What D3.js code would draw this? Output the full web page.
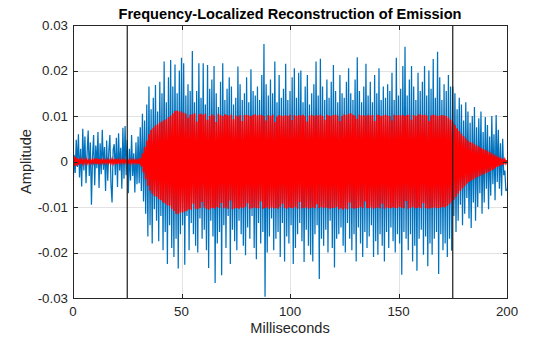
<!DOCTYPE html>
<html>
<head>
<meta charset="utf-8">
<script src="https://cdn.jsdelivr.net/npm/d3@7"></script>
<style>
  html, body { margin: 0; padding: 0; background: #fff; }
  svg { display: block; font-family: "Liberation Sans", Arial, Helvetica, sans-serif; }
</style>
</head>
<body>
<svg id="chart" width="560" height="337"></svg>
<script>
// Sample spacing of both traces, in milliseconds
const sampleStepMs = 0.5;
// Amplitudes below are stored in thousandths
const ampUnit = 1e-3;

// Recorded emission (blue), 0–200 ms
const emission = [
  -6.8, 1.5, -2.5, 4.8, -1.2, 6.0, -3.5, 2.8, -5.5, 7.2,
  -2.0, 5.5, -4.8, 1.8, 6.8, -3.2, 4.2, -9.5, 0.8, 5.8,
  -5.2, 3.5, -1.5, 6.5, -5.8, 4.0, -2.8, 7.0, -1.8, 3.2,
  -6.5, 4.6, -4.2, 2.2, 5.8, -5.0, -9.0, 2.6, 3.8, -3.0,
  5.2, -5.6, 6.2, -2.0, 3.0, -6.0, 7.4, -3.8, 7.8, -3.0,
  4.8, -7.0, 2.8, -4.2, 5.8, -3.2, 1.8, -6.8, 4.2, -5.0,
  5.5, -4.8, 7.5, -6.5, 10.5, -8.8, 9.0, -11.5, 12.5, -16.5,
  16.5, -14.0, 11.5, -18.0, 14.0, -10.5, 16.8, -13.0, 11.0, -17.5,
  17.5, -12.0, 15.0, -19.5, 22.0, -15.5, 13.0, -22.5, 18.5, -14.0,
  22.3, -19.0, 16.5, -21.0, 21.3, -17.0, 15.0, -23.5, 20.0, -16.0,
  22.8, -14.0, 21.6, -22.7, 14.5, -12.0, 17.0, -19.5, 15.5, -13.5,
  24.3, -16.0, 13.0, -18.5, 15.5, -20.0, 21.6, -12.5, 14.0, -17.0,
  21.6, -15.0, 12.5, -19.5, 21.2, -23.4, 16.0, -13.0, 18.0, -16.5,
  21.0, -26.7, 15.0, -18.0, 12.0, -15.5, 17.5, -25.0, 21.6, -14.0,
  13.5, -19.0, 16.0, -12.0, 18.5, -22.5, 16.5, -15.0, 12.5, -17.5,
  14.0, -19.5, 20.9, -13.0, 17.0, -16.0, 13.5, -18.5, 15.0, -20.6,
  18.5, -14.5, 13.0, -17.0, 20.3, -12.0, 15.5, -19.0, 14.5, -21.5,
  16.5, -13.5, 13.5, -18.0, 19.0, -15.5, 25.8, -29.7, 17.0, -20.0,
  14.5, -16.5, 18.0, -12.5, 15.0, -19.5, 22.0, -17.0, 13.0, -15.5,
  19.0, -21.0, 14.0, -13.5, 16.0, -22.0, 21.5, -16.5, 13.5, -18.0,
  15.5, -14.0, 18.5, -22.5, 20.5, -19.0, 14.0, -16.0, 19.5, -13.5,
  20.0, -17.5, 13.0, -22.1, 16.5, -15.0, 19.0, -18.5, 12.5, -20.5,
  15.0, -22.0, 17.0, -16.0, 22.0, -14.0, 14.5, -25.8, 22.6, -17.0,
  16.5, -18.5, 13.5, -15.0, 18.0, -20.0, 14.0, -13.0, 17.5, -19.0,
  21.2, -23.3, 15.5, -17.0, 13.0, -16.0, 19.0, -14.5, 15.0, -18.5,
  14.0, -20.0, 17.5, -13.5, 20.5, -17.0, 15.0, -19.5, 13.5, -16.0,
  18.0, -22.0, 22.9, -14.5, 15.5, -18.0, 13.0, -21.0, 16.5, -15.5,
  21.5, -19.0, 14.5, -16.5, 17.5, -14.0, 13.0, -21.0, 19.0, -17.5,
  15.0, -20.5, 20.5, -16.0, 13.5, -18.5, 16.5, -22.0, 14.0, -15.5,
  17.0, -19.0, 15.5, -14.5, 19.5, -17.5, 13.5, -20.0, 22.8, -16.0,
  14.5, -18.0, 16.0, -24.9, 21.0, -15.5, 25.2, -17.0, 14.5, -19.5,
  18.0, -16.0, 21.0, -22.0, 16.5, -18.5, 13.5, -24.0, 19.5, -17.0,
  15.5, -15.0, 17.5, -20.5, 21.0, -16.5, 14.5, -23.0, 20.0, -18.0,
  16.0, -20.5, 22.5, -17.0, 14.0, -15.5, 24.1, -24.7, 18.5, -16.0,
  13.5, -19.5, 17.0, -18.0, 15.5, -21.0, 19.0, -17.0, 16.5, -19.6,
  16.4, -12.0, 15.0, -15.5, 11.5, -13.0, 14.0, -9.5, 12.5, -14.0,
  9.0, -11.5, 13.0, -8.0, 11.0, -12.5, 8.5, -14.6, 10.0, -9.0,
  12.0, -13.0, 7.5, -10.0, 9.5, -7.0, 11.0, -11.5, 6.5, -9.0,
  9.8, -6.0, 8.0, -10.5, 5.5, -7.5, 10.0, -5.0, 6.0, -8.5,
  10.2, -4.5, 7.0, -6.0, 4.0, -7.5, 5.0, -3.0, -2.0, -6.5,
  -6.0
];

// Frequency-localized reconstruction (red), 0–200 ms
const reconstruction = [
  0.8, -1.0, 1.1, -0.9, 0.7, -0.8, 0.6, -0.5, 0.4, -0.5,
  0.4, -0.3, 0.5, -0.4, 0.3, -0.4, 0.3, -0.3, 0.4, -0.3,
  0.6, -0.5, 0.7, -0.6, 0.5, -0.4, 0.3, -0.3, 0.4, -0.3,
  0.3, -0.3, 0.4, -0.3, 0.3, -0.4, 0.5, -0.4, 0.5, -0.6,
  0.6, -0.5, 0.4, -0.3, 0.3, -0.3, 0.4, -0.3, 0.3, -0.3,
  0.3, -0.3, 0.3, -0.4, 0.3, -0.3, 0.4, -0.3, 0.3, -0.3,
  0.4, -0.5, 0.7, -1.1, 1.8, -2.4, 3.2, -3.9, 4.6, -5.3,
  6.0, -6.4, 6.9, -7.1, 7.4, -7.6, 7.9, -7.8, 8.2, -8.3,
  8.6, -8.5, 8.8, -9.0, 9.1, -9.2, 9.3, -9.6, 9.8, -9.7,
  10.1, -10.4, 10.6, -10.9, 11.1, -11.5, 11.2, -11.6, 11.0, -11.2,
  11.0, -11.2, 10.7, -11.0, 10.5, -10.8, 9.6, -10.5, 10.3, -10.6,
  10.4, -9.3, 10.6, -10.4, 8.8, -10.5, 10.4, -10.2, 10.5, -8.9,
  10.3, -10.1, 10.5, -10.4, 9.2, -10.6, 10.0, -10.3, 10.4, -10.2,
  10.1, -10.4, 8.7, -10.0, 10.5, -10.2, 10.2, -9.1, 10.0, -10.3,
  10.4, -10.1, 10.2, -10.4, 10.1, -8.6, 10.3, -10.5, 9.3, -10.3,
  10.1, -10.2, 9.9, -10.4, 10.2, -10.1, 8.9, -10.3, 10.2, -10.0,
  10.3, -9.2, 10.1, -10.4, 10.0, -10.3, 10.2, -10.1, 10.4, -10.2,
  10.1, -10.3, 10.3, -8.8, 10.2, -10.4, 10.0, -10.2, 9.0, -10.1,
  10.2, -10.4, 10.0, -10.1, 10.3, -10.3, 8.7, -10.2, 9.9, -10.4,
  10.2, -10.0, 10.1, -9.3, 10.0, -10.2, 10.2, -10.4, 10.0, -10.1,
  10.3, -10.2, 9.1, -10.3, 10.2, -10.0, 10.0, -10.4, 10.2, -8.9,
  10.1, -10.3, 10.3, -10.2, 10.0, -10.1, 8.8, -10.4, 10.1, -10.2,
  10.3, -10.1, 10.0, -10.3, 10.2, -9.4, 10.1, -10.2, 10.3, -10.0,
  10.0, -10.3, 9.2, -10.1, 10.3, -10.2, 10.1, -10.4, 10.0, -10.2,
  10.2, -10.2, 10.3, -10.0, 10.1, -10.5, 8.9, -10.3, 10.0, -10.6,
  10.4, -10.3, 10.2, -10.5, 10.5, -9.0, 10.6, -10.2, 10.3, -10.4,
  10.1, -10.3, 9.4, -10.2, 10.3, -10.0, 10.1, -10.3, 10.2, -8.8,
  10.0, -10.2, 10.3, -10.3, 10.1, -10.1, 10.2, -10.4, 8.9, -10.2,
  10.3, -10.1, 10.2, -10.3, 10.0, -9.3, 10.1, -10.4, 10.3, -10.1,
  10.1, -10.2, 10.0, -10.3, 9.0, -10.1, 10.3, -10.2, 10.1, -10.3,
  10.2, -10.0, 10.1, -10.2, 10.3, -10.3, 10.0, -8.7, 10.2, -10.4,
  10.3, -10.2, 9.2, -10.0, 10.2, -10.3, 10.0, -10.2, 10.3, -10.1,
  10.4, -10.3, 10.2, -9.1, 10.3, -10.2, 10.1, -10.4, 8.9, -10.3,
  10.1, -10.2, 10.3, -10.1, 10.2, -10.3, 10.0, -10.2, 10.1, -10.1,
  10.2, -10.0, 10.1, -10.1,
  10.0, -9.8, 9.6, -9.4, 9.2, -9.0, 8.6, -8.4, 8.0, -7.8,
  7.3, -7.1, 6.7, -6.5, 6.1, -5.9, 5.6, -5.4, 5.1, -4.9,
  4.6, -4.5, 4.3, -4.2, 4.1, -4.0, 3.8, -3.7, 3.5, -3.4,
  3.3, -3.2, 3.0, -2.9, 2.8, -2.8, 2.6, -2.5, 2.4, -2.3,
  2.1, -2.0, 1.8, -1.8, 1.5, -1.5, 1.3, -1.2, 1.0, -1.0,
  0.8, -0.8, 0.6, -0.6, 0.4, -0.4,
  0.3
];

// Marker positions (ms) and axis ticks
const markerTimes = [25, 175];
const xTicks = [0, 50, 100, 150, 200];
const yTicks = [-0.03, -0.02, -0.01, 0, 0.01, 0.02, 0.03];
const yTickLabels = ["-0.03", "-0.02", "-0.01", "0", "0.01", "0.02", "0.03"];

const titleText = "Frequency-Localized Reconstruction of Emission";
const xLabel = "Milliseconds";
const yLabel = "Amplitude";

const svg = d3.select("#chart");
const plot = { left: 73, right: 507, top: 25, bottom: 298 };

const x = d3.scaleLinear().domain([0, 200]).range([plot.left, plot.right]);
const y = d3.scaleLinear().domain([-0.03, 0.03]).range([plot.bottom, plot.top]);

const axisColor = "#262626";
const gridColor = "#e3e3e3";
const tickLen = 4.5;

svg.append("defs").append("clipPath").attr("id", "plotClip")
  .append("rect")
  .attr("x", plot.left).attr("y", plot.top)
  .attr("width", plot.right - plot.left).attr("height", plot.bottom - plot.top);

// Grid
const grid = svg.append("g").attr("shape-rendering", "crispEdges");
grid.selectAll(".gx").data(xTicks.slice(1, -1)).join("line")
  .attr("x1", d => Math.round(x(d)) + 0.5).attr("x2", d => Math.round(x(d)) + 0.5)
  .attr("y1", plot.top).attr("y2", plot.bottom)
  .attr("stroke", gridColor).attr("stroke-width", 1);
grid.selectAll(".gy").data(yTicks.slice(1, -1)).join("line")
  .attr("y1", d => Math.round(y(d)) + 0.5).attr("y2", d => Math.round(y(d)) + 0.5)
  .attr("x1", plot.left).attr("x2", plot.right)
  .attr("stroke", gridColor).attr("stroke-width", 1);

// Traces
const toPoints = arr => arr.map((v, i) => [i * sampleStepMs, v * ampUnit]);
const line = d3.line().x(d => x(d[0])).y(d => y(d[1]));

const traces = svg.append("g").attr("clip-path", "url(#plotClip)");
traces.append("path")
  .datum(toPoints(emission))
  .attr("d", line)
  .attr("fill", "none")
  .attr("stroke", "#0072BD")
  .attr("stroke-width", 1.25)
  .attr("stroke-linejoin", "miter");
traces.append("path")
  .datum(toPoints(reconstruction))
  .attr("d", line)
  .attr("fill", "none")
  .attr("stroke", "#FF0000")
  .attr("stroke-width", 1.6)
  .attr("stroke-linejoin", "miter");

// Marker lines
svg.append("g").selectAll("line").data(markerTimes).join("line")
  .attr("x1", d => x(d)).attr("x2", d => x(d))
  .attr("y1", plot.top).attr("y2", plot.bottom)
  .attr("stroke", "#1a1a1a").attr("stroke-width", 1.2);

// Axes box and inward ticks on all four sides
const axes = svg.append("g").attr("shape-rendering", "crispEdges");
axes.append("rect")
  .attr("x", plot.left + 0.5).attr("y", plot.top + 0.5)
  .attr("width", plot.right - plot.left).attr("height", plot.bottom - plot.top)
  .attr("fill", "none").attr("stroke", axisColor).attr("stroke-width", 1);

xTicks.forEach(t => {
  const px = Math.round(x(t)) + 0.5;
  axes.append("line").attr("x1", px).attr("x2", px)
    .attr("y1", plot.bottom).attr("y2", plot.bottom - tickLen)
    .attr("stroke", axisColor);
  axes.append("line").attr("x1", px).attr("x2", px)
    .attr("y1", plot.top).attr("y2", plot.top + tickLen)
    .attr("stroke", axisColor);
});
yTicks.forEach(t => {
  const py = Math.round(y(t)) + 0.5;
  axes.append("line").attr("y1", py).attr("y2", py)
    .attr("x1", plot.left).attr("x2", plot.left + tickLen)
    .attr("stroke", axisColor);
  axes.append("line").attr("y1", py).attr("y2", py)
    .attr("x1", plot.right).attr("x2", plot.right - tickLen)
    .attr("stroke", axisColor);
});

// Tick labels
const labels = svg.append("g").attr("fill", axisColor).attr("font-size", "13.3px");
labels.selectAll(".xt").data(xTicks).join("text")
  .attr("x", d => x(d)).attr("y", 316)
  .attr("text-anchor", "middle")
  .text(d => d);
labels.selectAll(".yt").data(yTicks).join("text")
  .attr("x", 68).attr("y", d => y(d) + 4.7)
  .attr("text-anchor", "end")
  .text((d, i) => yTickLabels[i]);

// Title and axis labels
svg.append("text")
  .attr("x", (plot.left + plot.right) / 2).attr("y", 19)
  .attr("text-anchor", "middle")
  .attr("font-size", "14.6px").attr("font-weight", "bold")
  .attr("fill", "#000")
  .text(titleText);
svg.append("text")
  .attr("x", (plot.left + plot.right) / 2).attr("y", 333)
  .attr("text-anchor", "middle")
  .attr("font-size", "14.6px")
  .attr("fill", axisColor)
  .text(xLabel);
svg.append("text")
  .attr("transform", `translate(31, ${(plot.top + plot.bottom) / 2}) rotate(-90)`)
  .attr("text-anchor", "middle")
  .attr("font-size", "14.6px")
  .attr("fill", axisColor)
  .text(yLabel);
</script>
</body>
</html>
